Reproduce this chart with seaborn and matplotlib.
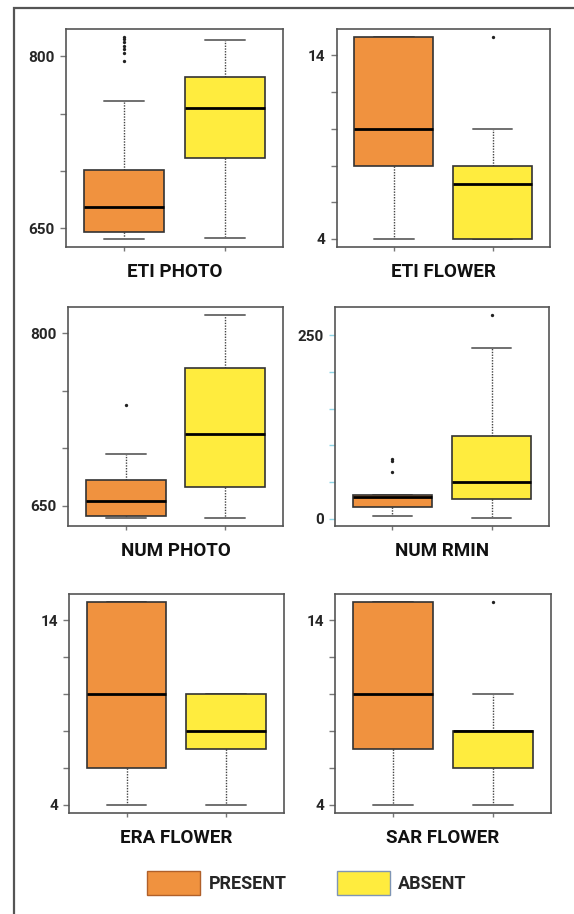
import numpy as np
import pandas as pd
import matplotlib.pyplot as plt
import seaborn as sns
from matplotlib.patches import Patch, Rectangle

# ---- data ----
groups = ["PRESENT", "ABSENT"]
colors = {"PRESENT": "#F0923F", "ABSENT": "#FFEC3E"}

# five-number summaries: lower whisker, Q1, median, Q3, upper whisker
eti_photo_present = [640.8, 647.2, 669.0, 700.8, 761.3]
eti_photo_present_out = [796, 803, 806, 809, 812, 815, 817]
eti_photo_absent = [641.4, 711.4, 754.7, 781.5, 814.4]
eti_photo_absent_out = []

eti_flower_present = [4, 8, 10, 15, 15]
eti_flower_present_out = []
eti_flower_absent = [4, 4, 7, 8, 10]
eti_flower_absent_out = [15]

num_photo_present = [639.3, 640.7, 653.8, 672.6, 694.6]
num_photo_present_out = [737.7]
num_photo_absent = [639.3, 665.9, 712.6, 770.2, 815.9]
num_photo_absent_out = []

num_rmin_present = [4.1, 15.9, 29.5, 31.8, 32.7]
num_rmin_present_out = [63.6, 78.2, 80.5]
num_rmin_absent = [0.9, 26.8, 50.0, 113.2, 232.7]
num_rmin_absent_out = [277.3]

era_flower_present = [4, 6, 10, 15, 15]
era_flower_present_out = []
era_flower_absent = [4, 7, 8, 10, 10]
era_flower_absent_out = []

sar_flower_present = [4, 7, 10, 15, 15]
sar_flower_present_out = []
sar_flower_absent = [4, 6, 8, 8, 10]
sar_flower_absent_out = [15]

photo_ticks = [650, 700, 750, 800]
flower_ticks = [4, 6, 8, 10, 12, 14]
rmin_ticks = [0, 50, 100, 150, 200, 250]

panels = [
    ("ETI PHOTO", eti_photo_present, eti_photo_present_out, eti_photo_absent, eti_photo_absent_out, photo_ticks),
    ("ETI FLOWER", eti_flower_present, eti_flower_present_out, eti_flower_absent, eti_flower_absent_out, flower_ticks),
    ("NUM PHOTO", num_photo_present, num_photo_present_out, num_photo_absent, num_photo_absent_out, photo_ticks),
    ("NUM RMIN", num_rmin_present, num_rmin_present_out, num_rmin_absent, num_rmin_absent_out, rmin_ticks),
    ("ERA FLOWER", era_flower_present, era_flower_present_out, era_flower_absent, era_flower_absent_out, flower_ticks),
    ("SAR FLOWER", sar_flower_present, sar_flower_present_out, sar_flower_absent, sar_flower_absent_out, flower_ticks),
]

# panel frames in pixels (x0, y0, x1, y1)
frames = [
    (66, 28.5, 283, 247), (336.5, 29, 550, 247),
    (68, 307, 283, 526), (335, 307, 549, 526),
    (69, 593.5, 283.5, 813), (335, 593.5, 550.5, 813),
]

sns.set_style("white")
plt.rcParams["font.family"] = ["Roboto", "DejaVu Sans"]

W, H = 574, 914
fig = plt.figure(figsize=(W / 100, H / 100), dpi=100)

for (title, pres, pres_out, absn, absn_out, ticks), (x0, y0, x1, y1) in zip(panels, frames):
    ax = fig.add_axes([x0 / W, 1 - y1 / H, (x1 - x0) / W, (y1 - y0) / H])

    df = pd.DataFrame({"group": ["PRESENT"] * len(pres) + ["ABSENT"] * len(absn),
                       "value": pres + absn})
    sns.boxplot(data=df, x="group", y="value", hue="group", order=groups, hue_order=groups,
                palette=colors, saturation=1, whis=(0, 100), width=0.8, fliersize=0,
                linewidth=1.2, linecolor="#333333", legend=False, ax=ax,
                whiskerprops=dict(color="#444444", linestyle=(0, (1, 1)), linewidth=1, zorder=0.5),
                capprops=dict(color="#707070", linewidth=1.4, zorder=0.5),
                medianprops=dict(color="black", linewidth=2))

    out = pd.DataFrame({"group": ["PRESENT"] * len(pres_out) + ["ABSENT"] * len(absn_out),
                        "value": pres_out + absn_out})
    if len(out):
        sns.stripplot(data=out, x="group", y="value", order=groups, jitter=False,
                      color="#222222", size=2.4, ax=ax)

    # R style axis range: 4% beyond the data
    allv = pres + pres_out + absn + absn_out
    lo, hi = min(allv), max(allv)
    pad = 0.04 * (hi - lo)
    ax.set_ylim(lo - pad, hi + pad)
    ax.set_xlim(-0.58, 1.58)

    ax.set_yticks(ticks)
    ax.set_yticklabels([str(ticks[0])] + [""] * (len(ticks) - 2) + [str(ticks[-1])],
                       fontsize=11, fontweight="bold")
    ax.set_xticks([0, 1])
    ax.set_xticklabels(["", ""])
    ax.set_xlabel("")
    ax.set_ylabel("")
    tick_col = "#8fd6e6" if title == "NUM RMIN" else "#777777"
    ax.tick_params(axis="y", left=True, direction="out", length=4, width=1, color=tick_col, pad=4)
    ax.tick_params(axis="x", bottom=True, direction="out", length=3, width=1, color="#777777")
    for s in ax.spines.values():
        s.set_color("#555555")
        s.set_linewidth(1.2)

    ax.annotate(title, xy=(0.5, 0), xycoords="axes fraction", xytext=(0, -18),
                textcoords="offset points", ha="center", va="center",
                fontsize=13.5, fontweight="bold", color="#111111")

# outer frame
fig.add_artist(Rectangle((14 / W, -0.1), 1.2, 1.1 - 7.5 / H, fill=False,
                         transform=fig.transFigure, lw=1.6, ec="#555555"))

handles = [Patch(fc=colors["PRESENT"], ec="#b0602a", lw=1),
           Patch(fc=colors["ABSENT"], ec="#7f95b5", lw=1)]
fig.legend(handles, groups, ncol=2, loc="center left", bbox_to_anchor=(147 / W, 1 - 883 / H),
           frameon=False, prop=dict(size=13, weight="bold"), handlelength=2.95, handleheight=1.75,
           handletextpad=0.45, columnspacing=2.8, borderpad=0, borderaxespad=0)

fig.savefig("out.png", dpi=100)
